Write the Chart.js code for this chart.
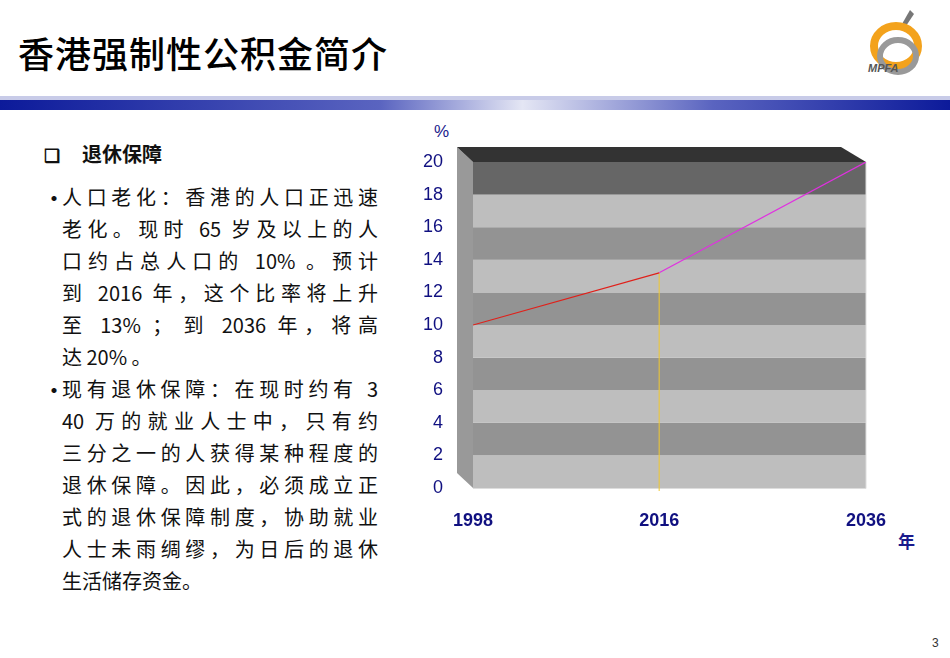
<!DOCTYPE html>
<html><head><meta charset="utf-8">
<script src="https://cdn.jsdelivr.net/npm/chart.js@4/dist/chart.umd.min.js"></script>
<style>
body{margin:0;width:950px;height:658px;background:#fff;position:relative;overflow:hidden;font-family:"Liberation Sans","Noto Sans CJK SC",sans-serif}
#title{position:absolute;left:18px;top:26px;font-family:"Noto Sans CJK SC";font-size:36px;color:#000;letter-spacing:1px;font-weight:500}
#bar{position:absolute;left:0;top:96px;width:950px;height:14px;background:linear-gradient(to bottom,#c8cbe8 0%,#c8cbe8 25%,transparent 25%),linear-gradient(to right,#0c1a9a,#5a64c0 40%,#e4e6f4 55%,#5a64c0 75%,#0c1a9a)}
#txt{position:absolute;left:0;top:0;font-family:"Noto Sans CJK SC","Liberation Sans";font-size:20px;color:#111}
.ln{position:absolute;left:62px;width:316px;text-align:justify;text-align-last:justify;white-space:nowrap;line-height:32px}
.last{text-align-last:left}
.b{position:absolute;left:42px;font-size:24px;line-height:32px}
#cw{position:absolute;left:420px;top:120px;width:510px;height:440px}
.nav{position:absolute;color:#1a1a8c;font-size:17px}
</style></head><body>
<div id="title">香港强制性公积金简介</div>
<svg style="position:absolute;left:862px;top:6px" width="70" height="80" viewBox="0 0 70 80">
<path d="M40 18 L48 4 L52 8 L44 20Z" fill="#777"/>
<ellipse cx="34" cy="40" rx="22" ry="20" fill="none" stroke="#f3a21c" stroke-width="8"/>
<ellipse cx="36" cy="50" rx="18" ry="16" fill="none" stroke="#999" stroke-width="6"/>
<text x="6" y="66" font-size="11" font-style="italic" font-weight="bold" fill="#555" font-family="Liberation Sans">MPFA</text>
</svg>
<div id="bar"></div>
<div id="txt">
<div class="b" style="top:138px;left:44px;font-size:18px;font-weight:bold">❑</div>
<div class="ln last" style="top:138px;left:82px;font-weight:bold">退休保障</div>
<div class="b" style="top:181px">•</div>
<div class="ln" style="top:181px">人口老化：香港的人口正迅速</div>
<div class="ln" style="top:213px">老化。现时 65 岁及以上的人</div>
<div class="ln" style="top:245px">口约占总人口的 10% 。预计</div>
<div class="ln" style="top:277px">到 2016 年，这个比率将上升</div>
<div class="ln" style="top:309px">至 13% ； 到 2036 年，将高</div>
<div class="ln last" style="top:341px">达 20% 。</div>
<div class="b" style="top:373px">•</div>
<div class="ln" style="top:373px">现有退休保障：在现时约有 3</div>
<div class="ln" style="top:405px">40 万的就业人士中，只有约</div>
<div class="ln" style="top:437px">三分之一的人获得某种程度的</div>
<div class="ln" style="top:469px">退休保障。因此，必须成立正</div>
<div class="ln" style="top:501px">式的退休保障制度，协助就业</div>
<div class="ln" style="top:533px">人士未雨绸缪，为日后的退休</div>
<div class="ln last" style="top:565px">生活储存资金。</div>
</div>
<div class="nav" style="left:434px;top:122px">%</div>
<div class="nav" style="left:898px;top:528px;font-family:'Noto Sans CJK SC';font-weight:bold">年</div>
<div style="position:absolute;left:932px;top:636px;font-size:12px;color:#333">3</div>
<div id="cw"><canvas id="c"></canvas></div>
<script>
const years=[1998,2016,2036];
const ratio=[10,13.2,20];
const yTicks=[0,2,4,6,8,10,12,14,16,18,20];
const bands={
 id:'bands',
 beforeDatasetsDraw(ch){
  const {ctx,chartArea:a,scales:{y,x}}=ch;
  ctx.save();
  ctx.fillStyle='#999';
  ctx.beginPath();ctx.moveTo(a.left-16,a.top-15);ctx.lineTo(a.left,a.top);ctx.lineTo(a.left,a.bottom);ctx.lineTo(a.left-16,a.bottom-15);ctx.closePath();ctx.fill();
  ctx.fillStyle='#333';
  ctx.beginPath();ctx.moveTo(a.left-16,a.top-15);ctx.lineTo(a.right-25,a.top-15);ctx.lineTo(a.right,a.top);ctx.lineTo(a.left,a.top);ctx.closePath();ctx.fill();
  for(let i=0;i<yTicks.length-1;i++){
   const t=y.getPixelForValue(yTicks[i+1]),b=y.getPixelForValue(yTicks[i]);
   ctx.fillStyle=i===9?'#666':(i%2===0?'#bebebe':'#939393');
   ctx.fillRect(a.left,t,a.right-a.left,b-t);
  }
  ctx.strokeStyle='#ddd';ctx.lineWidth=1;
  ctx.beginPath();ctx.moveTo(a.left,a.bottom+0.5);ctx.lineTo(a.right,a.bottom+0.5);ctx.lineTo(a.right,a.top);ctx.stroke();
  const px=x.getPixelForValue(years[1]);
  ctx.strokeStyle='#f0c830';
  ctx.beginPath();ctx.moveTo(px,y.getPixelForValue(ratio[1]));ctx.lineTo(px,a.bottom+3);ctx.stroke();
  ctx.restore();
 }
};
new Chart(document.getElementById('c'),{
 type:'line',
 data:{datasets:[{data:years.map((v,i)=>({x:v,y:ratio[i]})),borderWidth:1.2,pointRadius:0,tension:0,
  segment:{borderColor:c=>c.p0DataIndex===0?'#e0201a':'#e030e0'}}]},
 options:{responsive:true,maintainAspectRatio:false,animation:false,
  layout:{padding:{top:42,right:64,bottom:18,left:0}},
  plugins:{legend:{display:false},tooltip:{enabled:false}},
  scales:{
   x:{type:'linear',min:1998,max:2036,grid:{display:false},border:{display:false},
    afterBuildTicks:s=>{s.ticks=years.map(v=>({value:v}));},
    afterFit:s=>{s.height=54;},
    ticks:{padding:14,color:'#101080',font:{size:18,weight:'bold',family:'Liberation Sans'},maxRotation:0,autoSkip:false,callback:v=>String(v)}},
   y:{min:0,max:20,grid:{display:false},border:{display:false},
    afterBuildTicks:s=>{s.ticks=yTicks.map(v=>({value:v}));},
    afterFit:s=>{s.width=53;},
    ticks:{padding:22,color:'#101080',font:{size:18,family:'Liberation Sans'}}}
  }},
 plugins:[bands]
});
</script>
</body></html>
